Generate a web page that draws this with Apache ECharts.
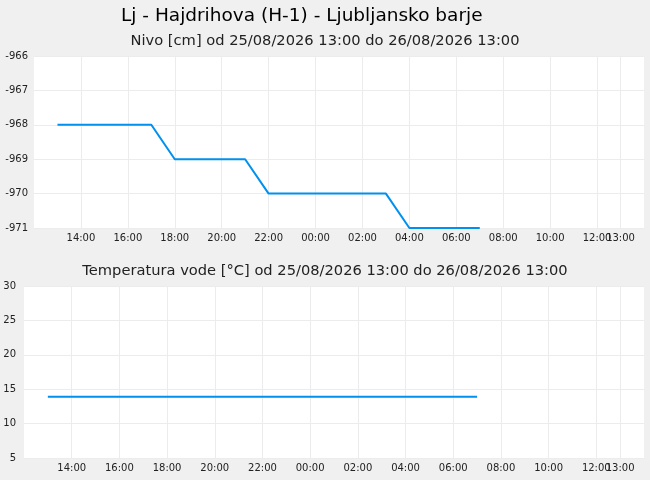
<!DOCTYPE html>
<html>
<head>
<meta charset="utf-8">
<script src="https://cdn.jsdelivr.net/npm/echarts@6/dist/echarts.min.js"></script>
<style>
  html, body { margin: 0; padding: 0; background: #f0f0f0; }
  #chart { width: 650px; height: 480px; }
</style>
</head>
<body>
<div id="chart"></div>
<script>
// Data
const times = [
  '2026-08-25 13:00','2026-08-25 14:00','2026-08-25 15:00','2026-08-25 16:00',
  '2026-08-25 17:00','2026-08-25 18:00','2026-08-25 19:00','2026-08-25 20:00',
  '2026-08-25 21:00','2026-08-25 22:00','2026-08-25 23:00','2026-08-26 00:00',
  '2026-08-26 01:00','2026-08-26 02:00','2026-08-26 03:00','2026-08-26 04:00',
  '2026-08-26 05:00','2026-08-26 06:00','2026-08-26 07:00'
];
const nivo = [-968,-968,-968,-968,-968,-969,-969,-969,-969,-970,-970,-970,-970,-970,-970,-971,-971,-971,-971];
const temperatura = [13.9,13.9,13.9,13.9,13.9,13.9,13.9,13.9,13.9,13.9,13.9,13.9,13.9,13.9,13.9,13.9,13.9,13.9,13.9];
const tickTimes = [
  '2026-08-25 14:00','2026-08-25 16:00','2026-08-25 18:00','2026-08-25 20:00',
  '2026-08-25 22:00','2026-08-26 00:00','2026-08-26 02:00','2026-08-26 04:00',
  '2026-08-26 06:00','2026-08-26 08:00','2026-08-26 10:00','2026-08-26 12:00'
];
const endTickTimes = ['2026-08-26 13:00'];
const axisStart = '2026-08-25 12:00';
const axisEnd = '2026-08-26 14:00';
const mainTitle = 'Lj - Hajdrihova (H-1) - Ljubljansko barje';
const nivoTitle = 'Nivo [cm] od 25/08/2026 13:00 do 26/08/2026 13:00';
const tempTitle = 'Temperatura vode [°C] od 25/08/2026 13:00 do 26/08/2026 13:00';

// hours since 2026-08-25 00:00
function hrs(s) {
  const [d, t] = s.split(' ');
  const day = Number(d.split('-')[2]);
  const [h, mi] = t.split(':').map(Number);
  return (day - 25) * 24 + h + mi / 60;
}
const pad = n => (n < 10 ? '0' : '') + n;
const FONT = 'DejaVu Sans';

function xAxisFor(gridIndex, ticks) {
  const vals = ticks.map(hrs);
  return {
    type: 'value', gridIndex: gridIndex, position: 'bottom', offset: 0,
    min: hrs(axisStart), max: hrs(axisEnd),
    axisLine: { show: false },
    axisTick: { show: false, customValues: vals },
    axisLabel: {
      customValues: vals, interval: 0, fontFamily: FONT, fontSize: 10, color: '#222', margin: 5,
      hideOverlap: false, showMinLabel: true, showMaxLabel: true,
      formatter: v => { const h = Math.round(v) % 24; return pad(h) + ':00'; }
    },
    splitLine: { show: true, lineStyle: { color: '#ececec', width: 1 } }
  };
}

const chart = echarts.init(document.getElementById('chart'), null, { renderer: 'canvas' });
chart.setOption({
  backgroundColor: '#f0f0f0',
  animation: false,
  title: [
    { text: mainTitle, left: 116, top: 2, textStyle: { fontFamily: FONT, fontSize: 18.5, fontWeight: 'normal', color: '#000' } },
    { text: nivoTitle, left: 'center', top: 29, textStyle: { fontFamily: FONT, fontSize: 14.67, fontWeight: 'normal', color: '#222' } },
    { text: tempTitle, left: 'center', top: 259, textStyle: { fontFamily: FONT, fontSize: 14.67, fontWeight: 'normal', color: '#222' } }
  ],
  grid: [
    { left: 34, right: 6, top: 56, height: 172, show: true, backgroundColor: '#fff', borderWidth: 0 },
    { left: 24, right: 6, top: 286, height: 172, show: true, backgroundColor: '#fff', borderWidth: 0 }
  ],
  xAxis: [
    xAxisFor(0, tickTimes), xAxisFor(1, tickTimes),
    xAxisFor(0, endTickTimes), xAxisFor(1, endTickTimes)
  ],
  yAxis: [
    {
      type: 'value', gridIndex: 0, min: -971, max: -966, interval: 1,
      axisLine: { show: false }, axisTick: { show: false },
      axisLabel: { fontFamily: FONT, fontSize: 10, color: '#222', margin: 6 },
      splitLine: { lineStyle: { color: '#ececec' } }
    },
    {
      type: 'value', gridIndex: 1, min: 5, max: 30, interval: 5,
      axisLine: { show: false }, axisTick: { show: false },
      axisLabel: { fontFamily: FONT, fontSize: 10, color: '#222', margin: 8 },
      splitLine: { lineStyle: { color: '#ececec' } }
    }
  ],
  series: [
    {
      type: 'line', xAxisIndex: 0, yAxisIndex: 0, showSymbol: false, symbol: 'none',
      data: times.map((t, i) => [hrs(t), nivo[i]]),
      lineStyle: { color: '#0090ef', width: 2 }, itemStyle: { color: '#0090ef' }
    },
    {
      type: 'line', xAxisIndex: 1, yAxisIndex: 1, showSymbol: false, symbol: 'none',
      data: times.map((t, i) => [hrs(t), temperatura[i]]),
      lineStyle: { color: '#0090ef', width: 2 }, itemStyle: { color: '#0090ef' }
    }
  ]
});
</script>
</body>
</html>
